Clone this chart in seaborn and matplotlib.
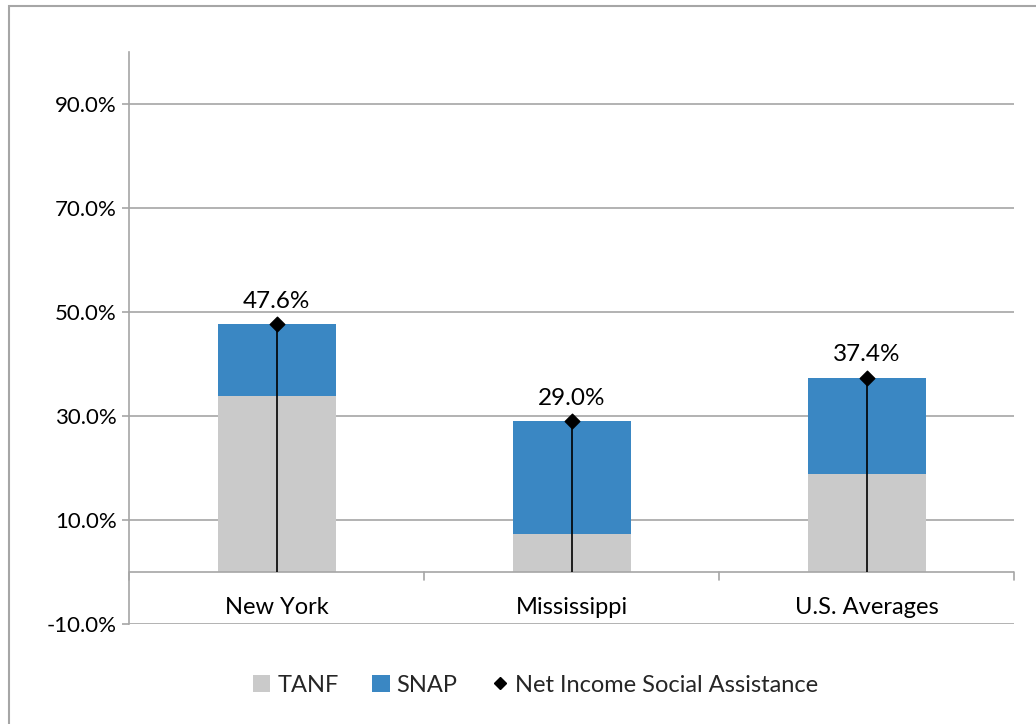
import matplotlib
matplotlib.use("Agg")
import matplotlib.pyplot as plt
import seaborn as sns
import pandas as pd
from matplotlib.patches import Rectangle, Patch
from matplotlib.lines import Line2D
from matplotlib.ticker import FuncFormatter, FixedLocator

categories = ["New York", "Mississippi", "U.S. Averages"]
tanf = [33.8, 7.3, 18.8]
snap = [13.8, 21.7, 18.6]
net_income = [47.6, 29.0, 37.4]
net_labels = ["47.6%", "29.0%", "37.4%"]
yticks = [-10, 10, 30, 50, 70, 90]

sns.set_theme(style="white")
plt.rcParams["font.family"] = ["Lato", "DejaVu Sans"]

df = pd.DataFrame({"cat": categories, "tanf": tanf, "snap": snap, "net": net_income})
df["total"] = df["tanf"] + df["snap"]

fig = plt.figure(figsize=(10.36, 7.24), dpi=100)
ax = fig.add_axes([129/1036, 1-624/724, (1014-129)/1036, (624-52)/724])

c_tanf = "#cacaca"
c_snap = "#3a87c3"

sns.barplot(data=df, x="cat", y="total", color=c_snap, width=0.4, ax=ax,
            saturation=1, edgecolor="none", zorder=2)
sns.barplot(data=df, x="cat", y="tanf", color=c_tanf, width=0.4, ax=ax,
            saturation=1, edgecolor="none", zorder=2)

xs = list(range(len(categories)))
ax.vlines(xs, 0, df["net"], color="black", lw=1.2, zorder=4)
ax.scatter(xs, df["net"], marker="D", s=55, color="black", zorder=5)
for x, v, lab in zip(xs, df["net"], net_labels):
    ax.annotate(lab, (x, v), xytext=(0, 9), textcoords="offset points",
                ha="center", va="bottom", fontsize=17.5, color="black")

ax.set_xlim(-0.5, 2.5)
ax.set_ylim(-10, 100)
ax.yaxis.set_major_locator(FixedLocator(yticks))
ax.yaxis.set_major_formatter(FuncFormatter(lambda v, p: f"{v:.1f}%"))
ax.grid(axis="y", color="#a6a6a6", lw=1.2, zorder=0)
ax.set_xlabel("")
ax.set_ylabel("")
ax.set_xticks([])
for s in ["top", "right", "bottom"]:
    ax.spines[s].set_visible(False)
ax.spines["left"].set_color("#a6a6a6")
ax.spines["left"].set_linewidth(1.2)

# zero axis line with category separators
ax.axhline(0, color="#a6a6a6", lw=1.2, zorder=3)
for b in [-0.5, 0.5, 1.5, 2.5]:
    ax.plot([b, b], [0, -1.5], color="#a6a6a6", lw=1.2, clip_on=False, zorder=3)
for x, c in zip(xs, categories):
    ax.text(x, -6.9, c, ha="center", va="center", fontsize=17, color="black")

ax.tick_params(axis="y", length=5, color="#a6a6a6", width=1.2, labelsize=16,
               labelcolor="black", pad=4, left=True)

handles = [Patch(facecolor=c_tanf, edgecolor="none", label="TANF"),
           Patch(facecolor=c_snap, edgecolor="none", label="SNAP"),
           Line2D([], [], marker="D", color="black", ls="none", markersize=6,
                  label="Net Income Social Assistance")]
fig.legend(handles=handles, loc="center", bbox_to_anchor=(0.517, 1-685/724),
           ncol=3, frameon=False, fontsize=17, handlelength=0.75, handleheight=0.75,
           handletextpad=0.3, columnspacing=1.4)

fig.patches.append(Rectangle((9/1036, -0.1), 1.2, 1-6.5/724+0.1,
                             transform=fig.transFigure, fill=False,
                             edgecolor="#a6a6a6", lw=1.5))

fig.savefig("out.png", dpi=100)
